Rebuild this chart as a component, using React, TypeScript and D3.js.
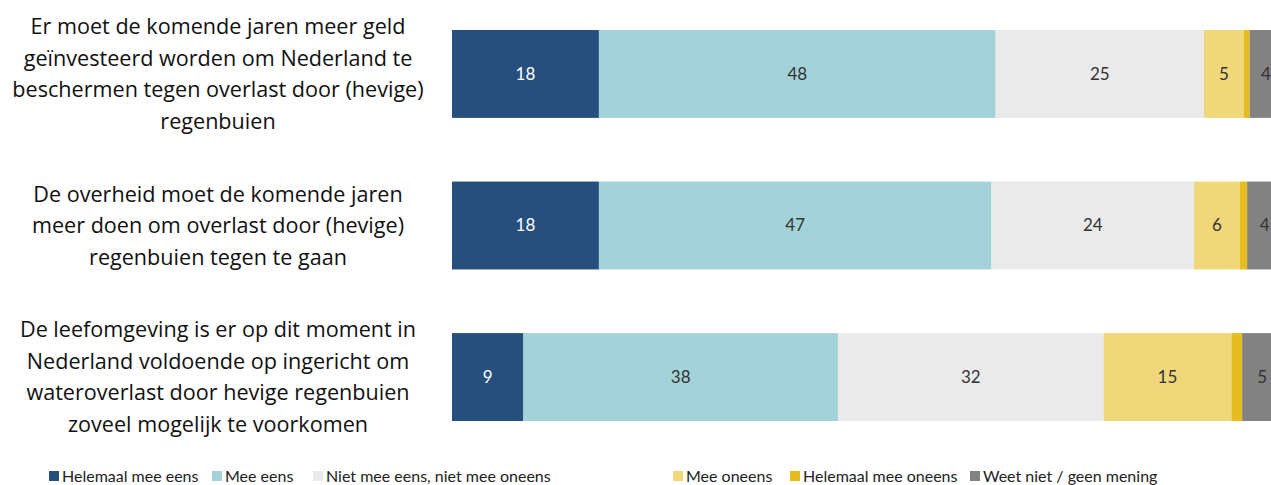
import React from "react";
import * as d3 from "d3";

const categories: string[][] = [
  ["Er moet de komende jaren meer geld", "geïnvesteerd worden om Nederland te", "beschermen tegen overlast door (hevige)", "regenbuien"],
  ["De overheid moet de komende jaren", "meer doen om overlast door (hevige)", "regenbuien tegen te gaan"],
  ["De leefomgeving is er op dit moment in", "Nederland voldoende op ingericht om", "wateroverlast door hevige regenbuien", "zoveel mogelijk te voorkomen"],
];

const seriesNames = [
  "Helemaal mee eens",
  "Mee eens",
  "Niet mee eens, niet mee oneens",
  "Mee oneens",
  "Helemaal mee oneens",
  "Weet niet / geen mening",
];

const helemaalMeeEens = [17.7, 17.7, 8.6];
const meeEens = [47.8, 47.3, 37.9];
const neutraal = [25.1, 24.4, 32.0];
const meeOneens = [4.8, 5.5, 15.4];
const helemaalMeeOneens = [0.7, 0.9, 1.3];
const weetNiet = [3.9, 4.2, 4.8];

const colors = ["#264F7E", "#A3D3D8", "#EAEAEA", "#EFD77A", "#E5BD1F", "#828282"];
const labelColors = ["#ffffff", "#333333", "#333333", "#333333", "#333333", "#333333"];
const showLabel = [true, true, true, true, false, true];
const legendX = [49, 212, 313, 673, 790, 970];

export default function App() {
  React.useEffect(() => {
    document.body.style.margin = "0";
  }, []);

  const W = 1271;
  const H = 485;
  const series = [helemaalMeeEens, meeEens, neutraal, meeOneens, helemaalMeeOneens, weetNiet];
  const idx = categories.map((_, i) => i);
  const rows = idx.map((i) => {
    const o: Record<string, number> = { i };
    seriesNames.forEach((s, k) => (o[s] = series[k][i]));
    return o;
  });
  const stacked = d3.stack<Record<string, number>>().keys(seriesNames)(rows);

  const x = d3.scaleLinear().domain([0, 100]).range([452, 1282]);
  const y = d3
    .scaleBand<number>()
    .domain(idx)
    .range([30, 421])
    .paddingInner(0.42)
    .paddingOuter(0);

  const font = "Lato, 'Open Sans', sans-serif";
  const lineH = 31.5;

  return (
    <svg width={W} height={H} style={{ display: "block" }} fontFamily={font}>
      <rect width={W} height={H} fill="#fff" />
      {stacked.map((layer, k) => (
        <g key={k}>
          {layer.map((d, i) => {
            const x0 = x(d[0]);
            const x1 = x(d[1]);
            const yy = y(i)!;
            const v = d[1] - d[0];
            return (
              <g key={i}>
                <rect x={x0} y={yy} width={x1 - x0} height={y.bandwidth()} fill={colors[k]} />
                {showLabel[k] && (
                  <text
                    x={(x0 + x1) / 2}
                    y={yy + y.bandwidth() / 2}
                    dy="0.35em"
                    textAnchor="middle"
                    fontSize={17}
                    fill={labelColors[k]}
                  >
                    {Math.round(v)}
                  </text>
                )}
              </g>
            );
          })}
        </g>
      ))}
      {categories.map((lines, i) => {
        const cy = y(i)! + y.bandwidth() / 2;
        const start = cy - ((lines.length - 1) * lineH) / 2;
        return (
          <text key={i} textAnchor="middle" fontSize={21.6} fill="#111" fontFamily="'Open Sans', sans-serif">
            {lines.map((l, j) => (
              <tspan key={j} x={218} y={start + j * lineH} dy="0.35em">
                {l}
              </tspan>
            ))}
          </text>
        );
      })}
      {seriesNames.map((s, k) => (
        <g key={s} transform={`translate(${legendX[k]},476)`}>
          <rect x={0} y={-5} width={10} height={10} fill={colors[k]} />
          <text x={13} y={0} dy="0.35em" fontSize={16} fill="#222">
            {s}
          </text>
        </g>
      ))}
    </svg>
  );
}
